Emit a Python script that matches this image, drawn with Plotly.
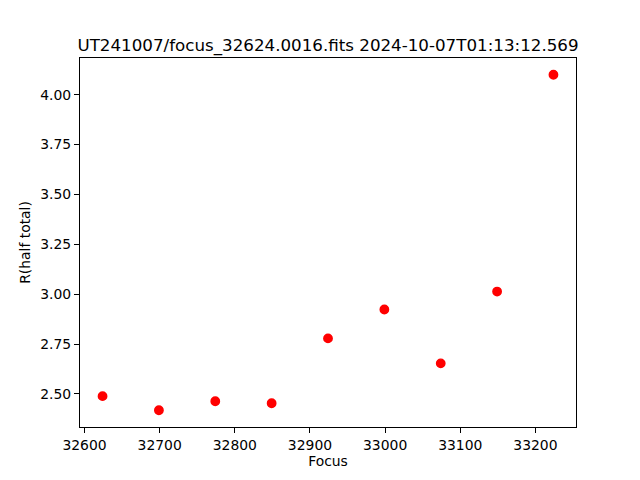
import plotly.graph_objects as go

focus = [32624, 32699, 32774, 32849, 32924, 32999, 33074, 33149, 33224]
r_half_total = [2.489, 2.4185, 2.4635, 2.4535, 2.7785, 2.9235, 2.6535, 3.0135, 4.10]
title_text = "UT241007/focus_32624.0016.fits 2024-10-07T01:13:12.569"

def padded(vals, frac=0.05):
    lo, hi = min(vals), max(vals)
    s = hi - lo
    return [lo - frac * s, hi + frac * s]

fig = go.Figure()
fig.add_trace(go.Scatter(
    x=focus, y=r_half_total, mode="markers",
    marker=dict(color="#ff0000", size=8.4, line=dict(color="#ff0000", width=1.4)),
    showlegend=False,
))

font = dict(family="DejaVu Sans", color="black")
axis_common = dict(
    showgrid=False, zeroline=False, showline=True, mirror=True,
    linecolor="black", linewidth=1.1, ticks="outside", ticklen=5, tickwidth=1.1,
    tickcolor="black", tickfont=dict(family="DejaVu Sans", size=13.9, color="black"),
)

# page body has an 8px margin, so the figure is placed 8px in and sized to fit
fig.update_layout(
    width=632, height=472,
    margin=dict(l=72, r=64, t=50, b=53),
    paper_bgcolor="white", plot_bgcolor="white",
    font=font,
    title=dict(text=title_text, x=0.5, xanchor="center", xref="paper",
               y=1, yref="paper", yanchor="bottom", pad=dict(b=7),
               font=dict(family="DejaVu Sans", size=16.7, color="black")),
    xaxis=dict(range=padded(focus), dtick=100, tick0=32600, tickformat="d",
               title=dict(text="Focus", font=dict(family="DejaVu Sans", size=13.9, color="black"), standoff=4),
               **axis_common),
    yaxis=dict(range=padded(r_half_total), dtick=0.25, tick0=2.5, tickformat=".2f",
               title=dict(text="R(half total)", font=dict(family="DejaVu Sans", size=13.9, color="black"), standoff=6),
               **axis_common),
)

fig.write_html("out.html")
